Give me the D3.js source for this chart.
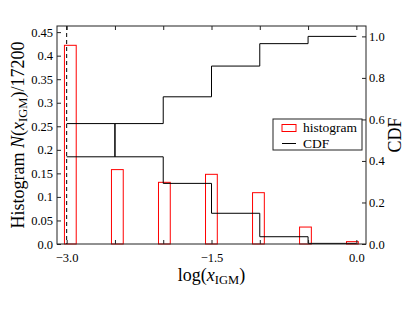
<!DOCTYPE html>
<html>
<head>
<meta charset="utf-8">
<script src="https://cdn.jsdelivr.net/npm/d3@7"></script>
<style>
  body { margin: 0; background: #fff; }
  svg text { font-family: 'Times New Roman', 'Liberation Serif', Times, serif !important; fill: #000; }
</style>
</head>
<body>
<div class="chart"></div>
<script>
// histogram bins (log x_IGM) and heights
var binStart = [-3.023, -2.536, -2.049, -1.562, -1.075, -0.588, -0.102];
var binEnd = [-2.901, -2.414, -1.927, -1.440, -0.953, -0.466, 0.020];
var histVals = [0.422, 0.158, 0.131, 0.148, 0.109, 0.036, 0.005];

// step curves (right axis)
var stepX = [-3.0, -2.5, -2.0, -1.5, -1.0, -0.5, 0.0];
var cdfVals = [0.42, 0.58, 0.709, 0.857, 0.965, 1.0, 1.0];
var survVals = [0.58, 0.42, 0.292, 0.148, 0.035, 0.003, 0.003];

// ticks
var xTicks = [-3.0, -2.5, -2.0, -1.5, -1.0, -0.5, 0.0];
var xTickLabels = ['\u22123.0', '', '', '\u22121.5', '', '', '0.0'];
var leftTicks = [0, 0.05, 0.1, 0.15, 0.2, 0.25, 0.3, 0.35, 0.4, 0.45];
var leftTickLabels = ['0.0', '0.05', '0.1', '0.15', '0.2', '0.25', '0.3', '0.35', '0.4', '0.45'];
var rightTicks = [0, 0.2, 0.4, 0.6, 0.8, 1.0];
var rightTickLabels = ['0.0', '0.2', '0.4', '0.6', '0.8', '1.0'];
var legendLabels = ['histogram', 'CDF'];

//setting graph bounds
var svgWidth = 415;
var svgHeight = 312;
var margin = {top: 26, right: 49, bottom: 68, left: 57};
var width = svgWidth - margin.left - margin.right;
var height = svgHeight - margin.top - margin.bottom;

var svg = d3.select('.chart')
    .append('svg')
    .attr('width', svgWidth)
    .attr('height', svgHeight);
var chart = svg.append('g')
    .attr('transform', 'translate(' + margin.left + ',' + margin.top + ')');

// scales
var x = d3.scaleLinear().domain([-3.1, 0.1]).range([0, width]);
var yLeft = d3.scaleLinear().domain([0, 0.463]).range([height, 0]);
var yRight = d3.scaleLinear().domain([0, 1.05]).range([height, 0]);

// histogram bars, outline only
chart.selectAll('.bar')
    .data(histVals)
    .enter()
    .append('rect')
    .attr('class', 'bar')
    .attr('x', function(d, i) { return x(binStart[i]); })
    .attr('width', function(d, i) { return x(binEnd[i]) - x(binStart[i]); })
    .attr('y', function(d) { return yLeft(d); })
    .attr('height', function(d) { return height - yLeft(d); })
    .attr('fill', 'none')
    .attr('stroke', '#ff0000')
    .attr('stroke-width', 1);

// dashed line at -3
chart.append('line')
    .attr('x1', x(-3.0)).attr('x2', x(-3.0))
    .attr('y1', 0).attr('y2', height)
    .attr('stroke', '#000')
    .attr('stroke-width', 1)
    .attr('stroke-dasharray', '4,3');

// step lines
var step = d3.line()
    .x(function(d, i) { return x(stepX[i]); })
    .y(function(d) { return yRight(d); })
    .curve(d3.curveStepAfter);

[cdfVals, survVals].forEach(function(vals) {
    chart.append('path')
        .attr('d', step(vals))
        .attr('fill', 'none')
        .attr('stroke', '#000')
        .attr('stroke-width', 1);
});

// axes, ticks inward
var bottomAxis = d3.axisBottom(x).tickValues(xTicks).tickSizeInner(-4).tickSizeOuter(0)
    .tickPadding(9).tickFormat(function(d, i) { return xTickLabels[i]; });
var topAxis = d3.axisTop(x).tickValues(xTicks).tickSizeInner(-4).tickSizeOuter(0)
    .tickFormat('');
var leftAxis = d3.axisLeft(yLeft).tickValues(leftTicks).tickSizeInner(-4).tickSizeOuter(0)
    .tickPadding(4).tickFormat(function(d, i) { return leftTickLabels[i]; });
var rightAxis = d3.axisRight(yRight).tickValues(rightTicks).tickSizeInner(-4).tickSizeOuter(0)
    .tickPadding(3).tickFormat(function(d, i) { return rightTickLabels[i]; });

chart.append('g').attr('class', 'axis').attr('transform', 'translate(0,' + height + ')').call(bottomAxis);
chart.append('g').attr('class', 'axis').call(topAxis);
chart.append('g').attr('class', 'axis').call(leftAxis);
chart.append('g').attr('class', 'axis').attr('transform', 'translate(' + width + ',0)').call(rightAxis);

chart.selectAll('.axis .domain').remove();
chart.selectAll('.axis line').attr('stroke', '#222');
chart.selectAll('.axis').attr('font-family', null);
chart.selectAll('.axis text')
    .attr('font-size', '12.5px')
    .attr('fill', '#000');

// frame
chart.append('rect')
    .attr('x', 0).attr('y', 0)
    .attr('width', width).attr('height', height)
    .attr('fill', 'none')
    .attr('stroke', '#222')
    .attr('stroke-width', 1);

// legend
var legend = chart.append('g')
    .attr('transform', 'translate(' + (273 - margin.left) + ',' + (119 - margin.top) + ')');
legend.append('rect')
    .attr('width', 89).attr('height', 31)
    .attr('fill', '#fff')
    .attr('stroke', '#222')
    .attr('stroke-width', 1);
legend.append('rect')
    .attr('x', 9).attr('y', 5.5).attr('width', 14).attr('height', 7)
    .attr('fill', 'none')
    .attr('stroke', '#ff0000');
legend.append('line')
    .attr('x1', 9).attr('x2', 23).attr('y1', 24.5).attr('y2', 24.5)
    .attr('stroke', '#000');
legend.selectAll('.legtext')
    .data(legendLabels)
    .enter()
    .append('text')
    .attr('x', 30)
    .attr('y', function(d, i) { return 13 + i * 16; })
    .attr('font-size', '13.5px')
    .text(function(d) { return d; });

//y axis label
var yl = svg.append('text')
    .attr('transform', 'translate(24,' + (margin.top + height / 2) + ') rotate(-90)')
    .attr('text-anchor', 'middle')
    .attr('font-size', '18px');
yl.append('tspan').text('Histogram ');
yl.append('tspan').attr('font-style', 'italic').text('N');
yl.append('tspan').text('(');
yl.append('tspan').attr('font-style', 'italic').text('x');
yl.append('tspan').attr('font-size', '12.5px').attr('dy', 3).text('IGM');
yl.append('tspan').attr('dy', -3).text(')/17200');

// right label
svg.append('text')
    .attr('transform', 'translate(401,' + (margin.top + height / 2) + ') rotate(-90)')
    .attr('text-anchor', 'middle')
    .attr('font-size', '18px')
    .text('CDF');

//x axis label
var xl = svg.append('text')
    .attr('x', margin.left + width / 2)
    .attr('y', 281)
    .attr('text-anchor', 'middle')
    .attr('font-size', '18px');
xl.append('tspan').text('log(');
xl.append('tspan').attr('font-style', 'italic').text('x');
xl.append('tspan').attr('font-size', '12.5px').attr('dy', 3).text('IGM');
xl.append('tspan').attr('dy', -3).text(')');
</script>
</body>
</html>
